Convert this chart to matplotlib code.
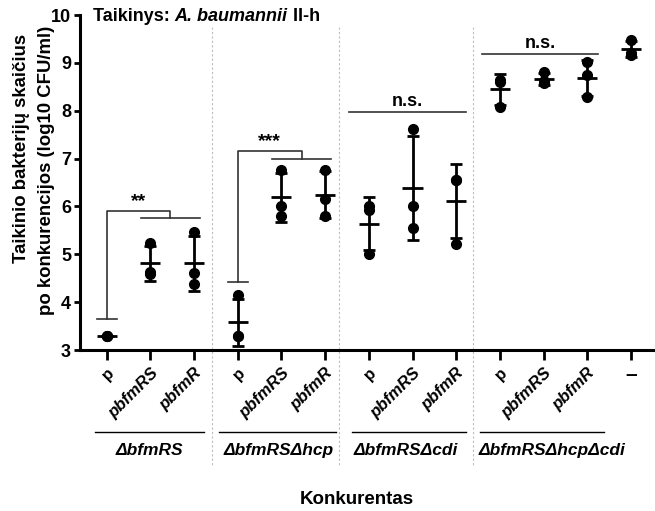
import numpy as np
import matplotlib
matplotlib.use('Agg')
import matplotlib.pyplot as plt
from matplotlib.transforms import blended_transform_factory

plt.rcParams['font.family'] = ['Liberation Sans', 'DejaVu Sans']
plt.rcParams['font.weight'] = 'bold'

# ---------------- data ----------------
tick_labels = ['p', 'pbfmRS', 'pbfmR', 'p', 'pbfmRS', 'pbfmR',
               'p', 'pbfmRS', 'pbfmR', 'p', 'pbfmRS', 'pbfmR', '–']
group_names = ['ΔbfmRS', 'ΔbfmRSΔhcp', 'ΔbfmRSΔcdi', 'ΔbfmRSΔhcpΔcdi']

g1_p = [3.30, 3.30, 3.30]
g1_pbfmRS = [5.24, 4.62, 4.58]
g1_pbfmR = [5.46, 4.60, 4.38]
g2_p = [4.15, 3.30, 3.30]
g2_pbfmRS = [6.77, 6.00, 5.80]
g2_pbfmR = [6.77, 6.15, 5.80]
g3_p = [6.00, 5.92, 5.00]
g3_pbfmRS = [7.62, 6.00, 5.54]
g3_pbfmR = [6.56, 6.56, 5.21]
g4_p = [8.65, 8.60, 8.08]
g4_pbfmRS = [8.81, 8.62, 8.58]
g4_pbfmR = [9.02, 8.74, 8.28]
none_ctrl = [9.48, 9.20, 9.17]

series = [g1_p, g1_pbfmRS, g1_pbfmR, g2_p, g2_pbfmRS, g2_pbfmR,
          g3_p, g3_pbfmRS, g3_pbfmR, g4_p, g4_pbfmRS, g4_pbfmR, none_ctrl]

yticks = [3, 4, 5, 6, 7, 8, 9, 10]

# significance annotations
stars_labels = ['**', '***']
stars_top = [5.91, 7.16]
stars_low = [5.76, 7.00]
stars_leg_bottom = [3.65, 4.42]
ns_levels = [7.97, 9.18]

ylabel_lines = ['Taikinio bakterijų skaičius', 'po konkurencijos (log10 CFU/ml)']

# ---------------- figure ----------------
W, H = 655, 511
fig = plt.figure(figsize=(W / 100, H / 100), dpi=100)
ax = fig.add_axes([80 / W, 161 / H, (W - 80) / W, 335 / H])
ax.set_xlim(-0.61, 12.55)
ax.set_ylim(3, 10)

for s in ['top', 'right']:
    ax.spines[s].set_visible(False)
for s in ['left', 'bottom']:
    ax.spines[s].set_linewidth(2.2)

ax.set_yticks(yticks)
ax.set_yticklabels([str(t) for t in yticks], fontweight='bold')
ax.tick_params(axis='y', direction='out', length=4.5, width=2, pad=2,
               labelsize=13)

x = np.arange(len(series))
ax.set_xticks(x)
ax.set_xticklabels(tick_labels, rotation=45, ha='right', va='top',
                   rotation_mode='anchor', fontsize=12, fontweight='bold')
ax.tick_params(axis='x', direction='out', length=7, width=2, pad=4)
for lab in ax.get_xticklabels():
    t = lab.get_text()
    if t.startswith('pbfm'):
        lab.set_fontstyle('italic')
    if t == '–':
        lab.set_rotation(0)
        lab.set_ha('center')
        lab.set_fontsize(15)

# data points, means, SD
for xi, vals in zip(x, series):
    v = np.array(vals)
    m = v.mean()
    sd = v.std(ddof=1)
    ax.errorbar([xi], [m], yerr=[sd], fmt='none', ecolor='black',
                elinewidth=2, capsize=4.5, capthick=2, zorder=3)
    ax.hlines(m, xi - 0.23, xi + 0.23, colors='black', lw=2, zorder=3)
    ax.plot(np.full(len(v), xi), v, 'o', color='black', ms=7,
            zorder=4, clip_on=False)

# separators
tr = blended_transform_factory(ax.transData, ax.transAxes)
for sx in [2.40, 5.32, 8.39]:
    ax.plot([sx, sx], [0.964, -0.345], transform=tr, color='#bdbdbd',
            lw=0.8, ls=(0, (2, 2)), clip_on=False, zorder=0)

# significance brackets
bc = '#333333'
for i, g0 in enumerate([0, 3]):
    top = stars_top[i]
    low = stars_low[i]
    mid = g0 + 1.46
    ax.plot([g0, g0, mid, mid], [stars_leg_bottom[i], top, top, low],
            color=bc, lw=1.2, clip_on=False)
    ax.plot([g0 + 0.79, g0 + 2.13], [low, low], color=bc, lw=1.2)
    ax.plot([g0 - 0.23, g0 + 0.23], [stars_leg_bottom[i]] * 2, color=bc, lw=1.2)
    ax.text(g0 + 0.73, top + 0.02, stars_labels[i], ha='center', va='bottom',
            fontsize=14, fontweight='bold')

for (x0, x1), lvl in zip([(5.55, 8.22), (8.60, 11.25)], ns_levels):
    ax.plot([x0, x1], [lvl, lvl], color=bc, lw=1.2)
    ax.text((x0 + x1) / 2, lvl + 0.04, 'n.s.', ha='center', va='bottom',
            fontsize=13, fontweight='bold')

# group lines and labels
group_spans = [(-0.27, 2.23), (2.58, 5.25), (5.61, 8.22), (8.54, 11.39)]
group_label_x = [0.97, 3.93, 6.85, 10.19]
for (x0, x1), lx, name in zip(group_spans, group_label_x, group_names):
    ax.plot([x0, x1], [-0.245, -0.245], transform=tr, color='black',
            lw=1.0, clip_on=False)
    ax.text(lx, -0.30, name, transform=tr, ha='center',
            va='center', fontsize=12.5, fontweight='bold', fontstyle='italic')

# x label
fig.text(357 / W, (H - 499) / H, 'Konkurentas', ha='center', va='center',
         fontsize=13.5, fontweight='bold')

# y label (two lines, fitted to measured lengths)
fig.canvas.draw()
renderer = fig.canvas.get_renderer()
yl_specs = [(ylabel_lines[0], 21.7, 148.5, 247), (ylabel_lines[1], 46.7, 170, 270)]
yl_texts = []
for txt, cx, cy, target in yl_specs:
    t = fig.text(cx / W, (H - cy) / H, txt, rotation=90, ha='center',
                 va='center', fontsize=13, fontweight='bold')
    yl_texts.append((t, target))
fig.canvas.draw()
sizes = []
for t, target in yl_texts:
    h = t.get_window_extent(renderer).height
    sizes.append(13 * target / h)
fs = float(np.mean(sizes))
for t, _ in yl_texts:
    t.set_fontsize(fs)

# title
base_y = H - 21
t1 = fig.text(93 / W, base_y / H, 'Taikinys: ', ha='left', va='baseline',
              fontsize=13, fontweight='bold')
fig.canvas.draw()
x1 = t1.get_window_extent(renderer).x1
t2 = fig.text(x1 / W, base_y / H, 'A. baumannii', ha='left', va='baseline',
              fontsize=13, fontweight='bold', fontstyle='italic')
fig.canvas.draw()
x2 = t2.get_window_extent(renderer).x1
fig.text(x2 / W, base_y / H, ' II-h', ha='left', va='baseline',
         fontsize=13, fontweight='bold')

fig.savefig('out.png', dpi=100)
